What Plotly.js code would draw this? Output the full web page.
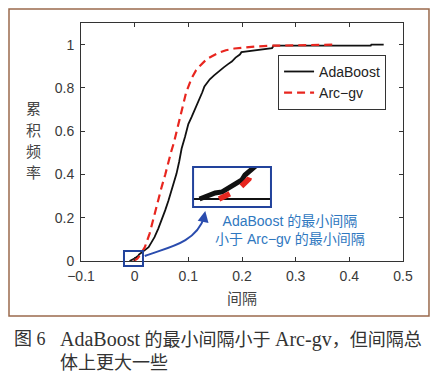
<!DOCTYPE html>
<html>
<head>
<meta charset="utf-8">
<script src="https://cdn.plot.ly/plotly-3.0.1.min.js"></script>
<style>
  body { margin: 0; background: #fff; }
  #chart { width: 441px; height: 375px; }
</style>
</head>
<body>
<div id="chart"></div>
<script>
// Cumulative frequency of margins
const marginAda = [-0.0095, -0.0074, -0.0035, -0.0008, 0.0015, 0.0042, 0.0068, 0.008, 0.0099, 0.0111, 0.018, 0.026, 0.031, 0.037, 0.044, 0.05, 0.057, 0.063, 0.07, 0.078, 0.083, 0.0875, 0.094, 0.1, 0.106, 0.112, 0.117, 0.121, 0.126, 0.13, 0.14, 0.148, 0.156, 0.166, 0.174, 0.181, 0.188, 0.196, 0.199, 0.21, 0.223, 0.235, 0.25, 0.256, 0.259, 0.3, 0.35, 0.4, 0.44, 0.441, 0.464];
const cdfAda = [0, 0.0025, 0.0075, 0.0088, 0.0138, 0.02, 0.0238, 0.03, 0.0338, 0.0363, 0.05, 0.064, 0.085, 0.11, 0.15, 0.188, 0.235, 0.28, 0.34, 0.404, 0.46, 0.52, 0.575, 0.633, 0.665, 0.7, 0.725, 0.745, 0.78, 0.807, 0.84, 0.858, 0.876, 0.895, 0.91, 0.922, 0.94, 0.954, 0.965, 0.968, 0.972, 0.977, 0.982, 0.984, 0.995, 0.995, 0.996, 0.996, 0.996, 1.0, 1.0];

const marginArc = [-0.002, 0.0, 0.005, 0.0095, 0.013, 0.019, 0.028, 0.037, 0.044, 0.05, 0.057, 0.063, 0.068, 0.073, 0.08, 0.0875, 0.096, 0.106, 0.114, 0.121, 0.135, 0.156, 0.17, 0.186, 0.205, 0.223, 0.255, 0.3, 0.37];
const cdfArc = [0, 0.003, 0.011, 0.025, 0.039, 0.064, 0.128, 0.22, 0.28, 0.34, 0.4, 0.463, 0.505, 0.546, 0.62, 0.693, 0.78, 0.844, 0.88, 0.9, 0.935, 0.962, 0.974, 0.982, 0.988, 0.991, 0.995, 0.998, 1.0];

const seriesNames = ['AdaBoost', 'Arc\u2212gv'];
const yTitleChars = ['累', '积', '频', '率'];

const tickFont = { family: 'Liberation Sans, Arial, sans-serif', size: 14, color: '#3a3a3a' };
const cjk = 'Noto Sans CJK SC, sans-serif';
const blueDark = '#22439c';

const traces = [
  { x: marginAda, y: cdfAda, type: 'scatter', mode: 'lines', name: seriesNames[0],
    line: { color: '#111', width: 1.8 } },
  { x: marginArc, y: cdfArc, type: 'scatter', mode: 'lines', name: seriesNames[1],
    line: { color: '#e8261f', width: 2.2, dash: '8px,5px' } },
  // zoomed inset near the origin
  { x: marginAda, y: cdfAda, type: 'scatter', mode: 'lines', xaxis: 'x2', yaxis: 'y2',
    showlegend: false, line: { color: '#111', width: 5 } },
  { x: marginArc, y: cdfArc, type: 'scatter', mode: 'lines', xaxis: 'x2', yaxis: 'y2',
    showlegend: false, line: { color: '#e8261f', width: 5.5, dash: '12px,14px' } }
];

const annotations = [
  // arrow head
  { xref: 'paper', yref: 'paper', x: 0.386, y: 0.21, ax: 0.380, ay: 0.17,
    axref: 'paper', ayref: 'paper', showarrow: true, arrowhead: 2, arrowsize: 1.1,
    arrowwidth: 2, arrowcolor: '#2a4cae', text: '' },
  { xref: 'paper', yref: 'paper', x: 0.649, y: 0.132, xanchor: 'center', yanchor: 'middle',
    showarrow: false,
    text: 'AdaBoost 的最小间隔<br>小于 Arc\u2212gv 的最小间隔', align: 'center',
    font: { family: 'Liberation Sans, ' + cjk, size: 14, color: '#2f78c0' } },
  // x title
  { xref: 'paper', yref: 'paper', x: 0.5, y: -0.155, xanchor: 'center', yanchor: 'middle',
    showarrow: false, text: '间隔', font: { family: cjk, size: 15, color: '#444' } },
  // caption
  { xref: 'paper', yref: 'paper', x: -0.214, y: -0.328, xanchor: 'left', yanchor: 'middle',
    showarrow: false,
    text: '图 6', font: { family: 'Liberation Serif, ' + cjk, size: 18, color: '#333' } },
  { xref: 'paper', yref: 'paper', x: -0.07, y: -0.376, xanchor: 'left', yanchor: 'middle',
    showarrow: false, align: 'left',
    text: '<span style="font-size:20px">AdaBoost</span> 的最小间隔小于 ' +
          '<span style="font-size:20px">Arc-gv</span>，但间隔总<br>体上更大一些',
    font: { family: 'Liberation Serif, ' + cjk, size: 18, color: '#333' } }
];

// y title, one character per line
const yTitleY = [0.647, 0.552, 0.466, 0.374];
yTitleChars.forEach((ch, i) => {
  annotations.push({ xref: 'paper', yref: 'paper', x: -0.146, y: yTitleY[i],
    xanchor: 'center', yanchor: 'middle', showarrow: false, text: ch,
    font: { family: cjk, size: 15, color: '#444' } });
});

const layout = {
  width: 441, height: 375,
  margin: { l: 81, r: 38, t: 23, b: 114 },
  paper_bgcolor: '#fff', plot_bgcolor: '#fff',
  showlegend: true,
  legend: {
    x: 0.612, y: 0.866, xanchor: 'left', yanchor: 'top',
    bgcolor: '#fff', bordercolor: '#333', borderwidth: 1,
    font: { family: 'Liberation Sans, Arial, sans-serif', size: 14, color: '#222' },
    tracegroupgap: 2
  },
  xaxis: {
    range: [-0.1, 0.5], dtick: 0.1, tick0: 0,
    ticks: 'inside', ticklen: 4, tickcolor: '#333', ticklabelstandoff: 2,
    showline: true, linecolor: '#333', linewidth: 1, mirror: 'ticks',
    showgrid: false, zeroline: false, tickfont: tickFont
  },
  yaxis: {
    range: [0, 1.1], dtick: 0.2, tick0: 0,
    ticks: 'inside', ticklen: 4, tickcolor: '#333', ticklabelstandoff: 3,
    showline: true, linecolor: '#333', linewidth: 1, mirror: 'ticks',
    showgrid: false, zeroline: false, tickfont: tickFont
  },
  xaxis2: {
    domain: [0.348, 0.590], anchor: 'y2', range: [-0.012, 0.018],
    showticklabels: false, ticks: '', showgrid: false, zeroline: false, showline: false
  },
  yaxis2: {
    domain: [0.227, 0.395], anchor: 'x2', range: [-0.01, 0.04],
    showticklabels: false, ticks: '', showgrid: false,
    zeroline: true, zerolinecolor: '#111', zerolinewidth: 2.5, showline: false
  },
  shapes: [
    // outer brown frame
    { type: 'rect', xref: 'paper', yref: 'paper', x0: -0.2236, x1: 1.0807, y0: -0.2311, y1: 1.0588,
      line: { color: '#9a6a4c', width: 1.5 } },
    // inset border
    { type: 'rect', xref: 'paper', yref: 'paper', x0: 0.348, x1: 0.590, y0: 0.227, y1: 0.395,
      line: { color: blueDark, width: 2 } },
    // small box at origin
    { type: 'rect', xref: 'paper', yref: 'paper', x0: 0.1335, x1: 0.1925, y0: -0.021, y1: 0.042,
      line: { color: blueDark, width: 2 } },
    // curved arrow body
    { type: 'path', xref: 'paper', yref: 'paper',
      path: 'M 0.198 0.021 C 0.26 0.055, 0.355 0.07, 0.383 0.185',
      line: { color: '#2a4cae', width: 2 } }
  ],
  annotations: annotations
};

Plotly.newPlot('chart', traces, layout, { displayModeBar: false, staticPlot: true });
</script>
</body>
</html>
